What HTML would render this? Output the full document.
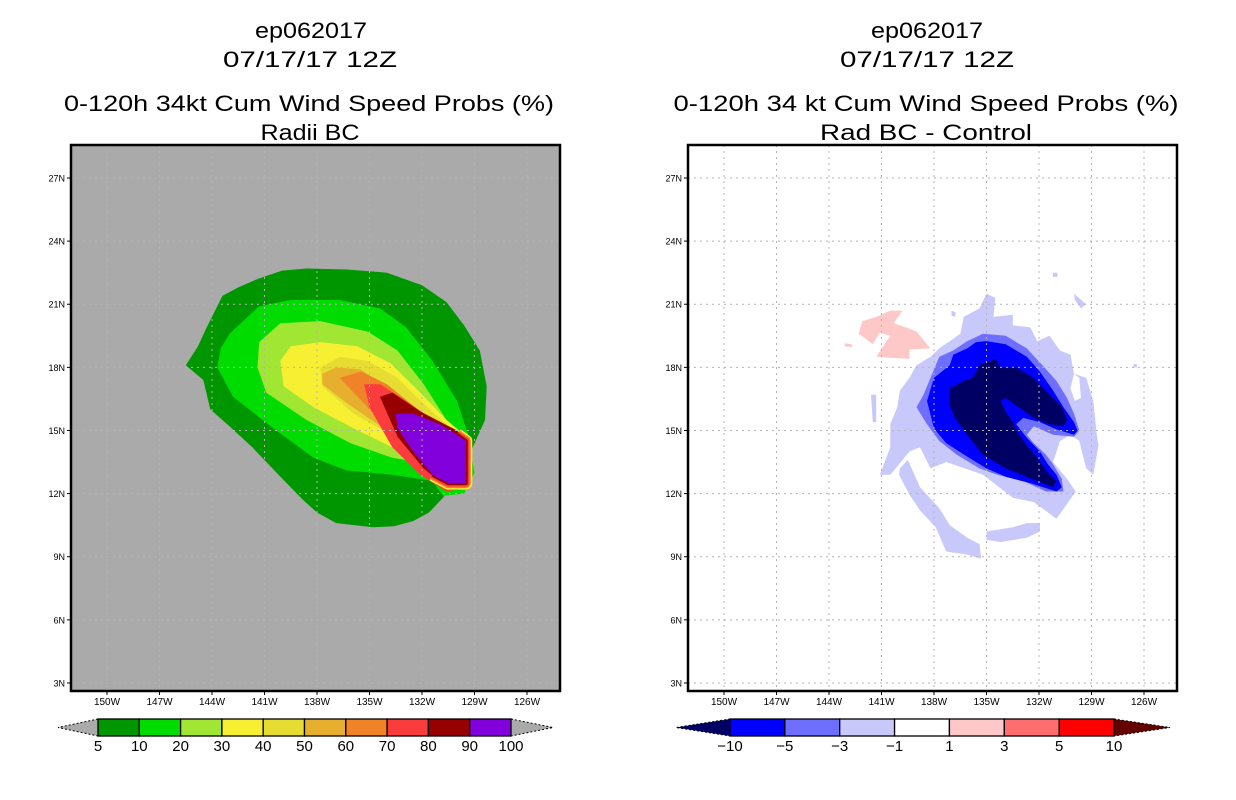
<!DOCTYPE html>
<html><head><meta charset="utf-8"><style>
html,body{margin:0;padding:0;background:#fff;}
svg{display:block;font-family:"Liberation Sans",sans-serif;}
</style></head><body>
<svg id="chart" width="1236" height="800" viewBox="0 0 1236 800" xmlns="http://www.w3.org/2000/svg">
<g font-size="22" text-anchor="middle" fill="#000">
<text x="311" y="38" textLength="112" lengthAdjust="spacingAndGlyphs">ep062017</text>
<text x="310" y="67" textLength="174" lengthAdjust="spacingAndGlyphs">07/17/17 12Z</text>
<text x="309" y="111" textLength="490" lengthAdjust="spacingAndGlyphs">0-120h 34kt Cum Wind Speed Probs (%)</text>
<text x="310" y="140" textLength="99" lengthAdjust="spacingAndGlyphs">Radii BC</text>
</g>
<g font-size="22" text-anchor="middle" fill="#000">
<text x="927" y="38" textLength="112" lengthAdjust="spacingAndGlyphs">ep062017</text>
<text x="927" y="67" textLength="174" lengthAdjust="spacingAndGlyphs">07/17/17 12Z</text>
<text x="926" y="111" textLength="505" lengthAdjust="spacingAndGlyphs">0-120h 34 kt Cum Wind Speed Probs (%)</text>
<text x="926" y="140" textLength="212" lengthAdjust="spacingAndGlyphs">Rad BC - Control</text>
</g>
<g id="left"></g>
<g id="right"></g>
<g id="cbars"></g>
</svg>
<script>
const lonTicks=[150,147,144,141,138,135,132,129,126];
const latTicks=[27,24,21,18,15,12,9,6,3];
const leftLevels=["5","10","20","30","40","50","60","70","80","90","100"];
const leftColors=["#009600","#00dc00","#a0e632","#f7f032","#e6dc32","#e6af2d","#f08228","#fa3c3c","#960000","#8200dc"];
const rightLevels=["-10","-5","-3","-1","1","3","5","10"];
const rightColors=["#000064","#0000ff","#6e6eff","#c8c8fa","#ffffff","#ffc8c8","#ff6e6e","#ff0000"];
// left contour regions (lon W, lat N)
const p5=[[138.6,22.7],[136.3,22.65],[134.0,22.5],[132.0,21.9],[130.6,21.1],[129.6,20.0],[128.7,18.8],[128.3,17.1],[128.4,15.5],[129.1,14.2],[130.0,12.8],[130.8,11.8],[131.6,11.1],[132.5,10.7],[133.6,10.45],[134.8,10.4],[136.9,10.6],[138.0,11.1],[138.8,11.7],[140.2,12.9],[141.7,14.2],[143.0,15.2],[144.1,16.0],[144.5,17.4],[145.5,18.1],[144.8,19.0],[144.3,19.9],[143.4,21.4],[142.5,21.8],[141.4,22.2],[140.0,22.6]];
const p10=[[141.3,20.9],[139.5,21.2],[136.7,21.2],[134.4,20.8],[132.9,19.9],[131.4,18.3],[130.0,16.4],[129.4,14.9],[129.0,13.0],[129.6,12.0],[130.8,11.9],[131.4,12.6],[133.7,12.9],[136.3,13.1],[138.2,13.7],[140.5,15.1],[142.8,16.6],[143.7,18.0],[143.5,18.9],[143.0,19.6]];
const p20=[[140.1,20.1],[137.8,20.2],[135.1,19.7],[133.4,18.8],[131.9,17.2],[130.6,15.5],[129.7,14.9],[130.0,14.2],[131.5,13.4],[133.7,13.7],[136.1,14.4],[138.6,15.5],[140.9,16.8],[141.4,18.0],[141.3,19.2]];
const p30=[[139.5,19.0],[137.8,19.2],[135.7,19.0],[133.8,18.2],[132.1,16.8],[130.6,15.5],[129.8,14.9],[130.4,14.0],[131.7,13.6],[133.7,14.2],[135.9,15.1],[138.2,16.1],[139.9,17.1],[140.1,18.3]];
const p40=[[137.8,18.0],[136.7,18.5],[135.1,18.3],[133.4,17.5],[131.7,16.1],[130.2,15.0],[130.6,14.2],[132.1,13.9],[134.0,14.9],[135.9,15.8],[137.7,17.1]];
const p50=[[137.7,17.7],[136.9,18.0],[135.5,17.9],[133.7,16.9],[131.7,15.6],[130.4,14.9],[130.8,14.2],[132.1,14.0],[134.0,15.0],[136.3,16.3],[137.7,17.2]];
const p60=[[136.7,17.5],[135.5,17.8],[134.0,17.2],[132.1,15.9],[130.2,14.9],[130.8,14.2],[132.5,14.4],[134.4,15.5],[135.9,16.8]];
const p70=[[135.3,17.2],[134.4,17.2],[132.9,16.4],[131.0,15.3],[129.8,14.9],[129.3,14.2],[129.4,12.3],[130.6,12.1],[132.1,12.9],[133.7,14.2],[135.0,16.1]];
const p80=[[134.4,16.6],[133.7,16.8],[132.1,15.9],[130.0,15.0],[129.4,14.5],[129.4,12.5],[130.6,12.3],[131.9,13.2],[133.4,14.7]];
const p90=[[133.5,15.8],[132.5,15.8],[131.0,15.3],[130.0,14.8],[129.5,14.5],[129.5,12.5],[130.5,12.5],[131.4,12.9],[132.5,14.0],[133.4,15.1]];
const edge90=[[130.0,14.8],[129.5,14.5],[129.5,12.5],[130.5,12.5],[131.4,12.9]];
// right difference regions
const rLight=[[135.0,21.5],[134.5,21.3],[134.6,20.4],[133.5,20.5],[133.5,20.0],[132.5,19.9],[132.1,19.25],[131.4,19.5],[130.8,18.8],[130.2,18.6],[130.0,17.7],[129.3,17.5],[128.9,16.4],[128.7,14.8],[128.6,14.3],[128.9,12.9],[129.3,13.2],[129.7,14.5],[130.2,14.8],[130.8,14.5],[131.2,13.5],[130.4,12.7],[129.9,12.1],[131.0,10.8],[132.3,11.6],[133.5,11.8],[135.2,12.9],[137.3,13.5],[138.2,13.2],[138.8,14.2],[139.4,14.0],[140.5,12.9],[141.1,12.9],[140.5,14.2],[140.5,15.3],[140.1,16.1],[139.95,16.9],[139.4,17.5],[139.0,18.1],[138.2,18.5],[137.7,18.9],[137.1,19.25],[136.5,19.6],[136.3,20.4],[135.4,20.8]];
const rLightArm=[[139.95,13.2],[139.5,13.6],[138.8,12.3],[137.7,11.3],[137.1,10.5],[136.1,9.9],[135.4,9.6],[135.3,8.9],[136.1,9.1],[137.3,9.25],[137.9,10.4],[138.8,11.2],[139.4,11.95],[140.0,12.9]];
const rLightBlob=[[135.0,10.2],[133.5,10.4],[132.7,10.6],[131.95,10.6],[131.95,10.2],[132.7,9.9],[134.2,9.7],[135.0,9.8]];
const rLightWest=[[141.6,16.7],[141.3,16.7],[141.3,15.4],[141.5,15.4]];
const rLightNE=[[130.0,21.5],[129.3,21.0],[129.6,20.8],[129.95,21.2]];
const rLightDot1=[[131.2,22.5],[130.95,22.5],[130.95,22.3],[131.2,22.3]];
const rLightDot2=[[137.0,20.7],[136.75,20.6],[136.8,20.4],[137.0,20.45]];
const rLightDot3=[[126.6,18.15],[126.4,18.15],[126.4,18.0],[126.6,18.0]];
const rHole=[[130.0,17.7],[129.7,17.5],[129.6,16.55],[129.95,16.4],[130.2,17.0]];
const rMed=[[139.0,16.1],[138.6,16.7],[138.2,17.5],[137.7,18.5],[136.9,18.8],[136.1,19.25],[135.2,19.6],[133.9,19.5],[132.7,18.9],[131.8,18.1],[131.0,17.35],[130.4,16.55],[130.0,15.8],[129.7,15.0],[130.0,14.7],[131.2,14.8],[132.3,15.2],[132.7,14.8],[132.3,14.4],[131.6,13.85],[131.2,13.4],[130.7,12.7],[130.6,12.1],[131.6,12.1],[132.9,12.6],[134.4,12.9],[135.4,13.2],[136.7,13.85],[137.7,14.5],[138.4,15.3]];
const rBlue=[[138.4,16.4],[138.0,17.5],[137.1,18.1],[136.9,18.6],[136.1,18.9],[135.6,19.2],[135.0,19.25],[133.9,19.1],[132.7,18.5],[131.95,17.8],[131.2,16.9],[130.6,16.1],[130.0,15.4],[129.8,15.0],[130.0,14.8],[131.0,15.05],[131.95,15.4],[132.9,15.6],[133.3,15.3],[132.7,14.65],[131.95,14.0],[131.5,13.4],[131.0,12.9],[130.7,12.3],[131.0,12.1],[132.5,12.5],[133.9,12.8],[135.0,13.2],[136.0,13.7],[137.3,14.4],[138.0,15.1]];
const rNavy=[[137.1,17.0],[136.3,17.35],[135.8,17.5],[135.4,18.1],[134.5,18.4],[134.2,18.0],[133.3,18.0],[132.3,17.5],[131.4,16.7],[130.7,16.1],[130.4,15.5],[130.6,15.2],[131.4,15.3],[132.3,15.6],[133.9,16.55],[134.2,16.4],[133.9,15.9],[133.5,15.4],[133.3,15.0],[132.7,14.3],[132.1,13.7],[131.6,13.1],[131.0,12.6],[131.2,12.3],[132.1,12.6],[133.9,13.2],[135.2,13.85],[136.1,14.8],[136.8,15.6],[137.1,16.2]];
const rPink=[[142.1,20.2],[141.3,20.4],[140.5,20.7],[139.8,20.7],[140.3,20.1],[139.6,19.9],[139.0,19.7],[138.2,18.9],[139.4,18.85],[139.4,18.4],[141.3,18.5],[140.9,19.0],[140.5,19.5],[141.1,19.65],[141.5,19.1],[142.3,19.6]];
const rPinkDot=[[143.1,19.15],[142.7,19.1],[142.7,18.95],[143.1,19.0]];

const NS="http://www.w3.org/2000/svg";
function xS(lon,off){return 107+off+(150-lon)*17.5;}
function yS(lat){return 178+(27-lat)*21.04;}
function mk(tag,attrs,parent){const e=document.createElementNS(NS,tag);for(const k in attrs)e.setAttribute(k,attrs[k]);parent.appendChild(e);return e;}
function pts(arr,off){return arr.map(p=>xS(p[0],off).toFixed(1)+","+yS(p[1]).toFixed(1)).join(" ");}
function poly(g,arr,off,fill,name){const e=mk("polygon",{points:pts(arr,off),fill:fill},g);

return e;}

function frame(g,off,bg){
  const x0=71+off,x1=560+off,y0=145,y1=691;
  const r=mk("rect",{x:x0,y:y0,width:x1-x0,height:y1-y0,fill:bg},g);
  
  
  return [x0,x1,y0,y1];
}
function axes(g,off,b){
  const [x0,x1,y0,y1]=b;
  const gg=mk("g",{},g);
  
  
  lonTicks.forEach(l=>{const x=xS(l,off);
    const ln=mk("line",{x1:x,x2:x,y1:y0,y2:y1,stroke:"#b4b4b4","stroke-width":1,"stroke-dasharray":"2,4"},gg);
    
    
    const tk=mk("line",{x1:x,x2:x,y1:y1,y2:y1+4,stroke:"#000"},g);
    
    
    const t=mk("text",{x:x,y:y1+14,"font-size":10,"text-anchor":"middle"},g);t.textContent=l+"W";
    
    });
  latTicks.forEach(l=>{const y=yS(l);
    const ln=mk("line",{x1:x0,x2:x1,y1:y,y2:y,stroke:"#b4b4b4","stroke-width":1,"stroke-dasharray":"2,4"},gg);
    
    
    const tk=mk("line",{x1:x0-4,x2:x0,y1:y,y2:y,stroke:"#000"},g);
    
    
    const t=mk("text",{x:x0-6,y:y+3.5,"font-size":9,"text-anchor":"end"},g);t.textContent=l+"N";
    
    });
  const f=mk("rect",{x:x0,y:y0,width:x1-x0,height:y1-y0,fill:"none",stroke:"#000","stroke-width":2.5},g);
  
  
}
// left map
const L=document.getElementById("left");
const bl=frame(L,0,"#aaaaaa");
const leftPolys=[p5,p10,p20,p30,p40,p50,p60,p70,p80];
leftPolys.forEach((p,i)=>poly(L,p,0,leftColors[i],"contour-"+leftLevels[i]+"pct"));
const ringW=[13,10,7,4],ringC=[leftColors[3],leftColors[6],leftColors[7],leftColors[8]];
ringW.forEach((w,i)=>{const e=mk("polyline",{points:pts(edge90,0),fill:"none",stroke:ringC[i],"stroke-width":w,"stroke-linejoin":"round"},L);
  
  });
poly(L,p90,0,leftColors[9],"contour-90pct");
axes(L,0,bl);
// right map
const R=document.getElementById("right");
const OFF=617;
const br=frame(R,OFF,"#ffffff");
[rLight,rLightArm,rLightBlob,rLightWest,rLightNE,rLightDot1,rLightDot2,rLightDot3].forEach(p=>poly(R,p,OFF,rightColors[3],"diff-minus1-region"));
poly(R,rHole,OFF,"#ffffff","diff-hole");
poly(R,rMed,OFF,rightColors[2],"diff-minus3-region");
poly(R,rBlue,OFF,rightColors[1],"diff-minus5-region");
poly(R,rNavy,OFF,rightColors[0],"diff-minus10-region");
poly(R,rPink,OFF,rightColors[5],"diff-plus1-region");
poly(R,rPinkDot,OFF,rightColors[5],"diff-plus1-dot");
axes(R,OFF,br);
// colorbars
const C=document.getElementById("cbars");
function cbar(x0,x1,cols,labels,lowC,highC,lx,hx,name){
  const g=mk("g",{},C);
  
  
  const y0=719,y1=736,ym=(y0+y1)/2,w=(x1-x0)/cols.length;
  const a=mk("polygon",{points:`${x0},${y0} ${lx},${ym} ${x0},${y1}`,fill:lowC,stroke:"#000","stroke-width":1,"stroke-dasharray":"2,2"},g);
  
  
  const b=mk("polygon",{points:`${x1},${y0} ${hx},${ym} ${x1},${y1}`,fill:highC,stroke:"#000","stroke-width":1,"stroke-dasharray":"2,2"},g);
  
  
  cols.forEach((c,i)=>{const r=mk("rect",{x:x0+i*w,y:y0,width:w,height:y1-y0,fill:c,stroke:"#000","stroke-width":1.3},g);
    
    });
  labels.forEach((t,i)=>{const e=mk("text",{x:x0+i*w,y:751,"font-size":15,"text-anchor":"middle"},g);e.textContent=t.replace("-","\u2212");
    
    });
}
cbar(98,511,leftColors,leftLevels,"#aaaaaa","#aaaaaa",58,553,"left-colorbar");
cbar(730,1114,rightColors.slice(1),rightLevels,rightColors[0],"#640000",676,1170,"right-colorbar");
</script>
</body></html>
